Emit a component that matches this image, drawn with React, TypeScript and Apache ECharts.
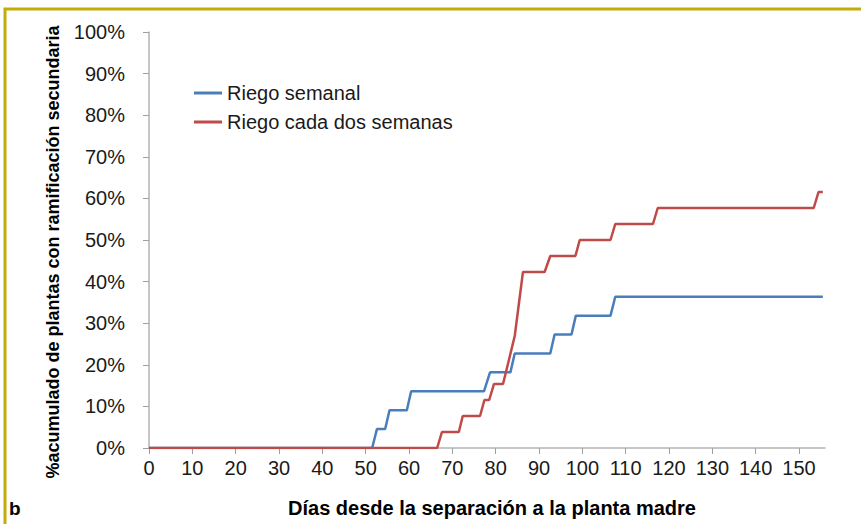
import React, { useEffect, useRef } from "react";
import * as echarts from "echarts";

const xTicks = [0, 10, 20, 30, 40, 50, 60, 70, 80, 90, 100, 110, 120, 130, 140, 150];

const seriesNames = ["Riego semanal", "Riego cada dos semanas"];

// Riego semanal (days, cumulative %)
const blueDays = [0, 51.5, 52.6, 54.5, 55.5, 59.5, 60.5, 77.3, 78.7, 83.4, 84.4, 92.6, 93.6, 97.5, 98.5, 106.5, 107.6, 155.5];
const blueValues = [0, 0, 4.55, 4.55, 9.09, 9.09, 13.64, 13.64, 18.18, 18.18, 22.73, 22.73, 27.27, 27.27, 31.82, 31.82, 36.36, 36.36];

// Riego cada dos semanas (days, cumulative %)
const redDays = [0, 66.5, 67.6, 71.5, 72.4, 76.4, 77.4, 78.5, 79.6, 81.7, 84.4, 86.3, 91.3, 92.6, 98.4, 99.4, 106.5, 107.6, 116.3, 117.4, 153.4, 154.5, 155.5];
const redValues = [0, 0, 3.85, 3.85, 7.69, 7.69, 11.54, 11.54, 15.38, 15.38, 26.92, 42.31, 42.31, 46.15, 46.15, 50.0, 50.0, 53.85, 53.85, 57.69, 57.69, 61.54, 61.54];

const FONT = "'Liberation Sans', Arial, sans-serif";

export default function App() {
  const ref = useRef<HTMLDivElement>(null);
  useEffect(() => {
    document.body.style.margin = "0";
    if (!ref.current) return;
    const chart = echarts.init(ref.current, null, { renderer: "svg" });
    chart.setOption({
      animation: false,
      backgroundColor: "#ffffff",
      textStyle: { fontFamily: FONT },
      grid: { left: 149, right: 36, top: 32, bottom: 76, containLabel: false },
      legend: {
        orient: "vertical",
        left: 194,
        top: 83,
        padding: 0,
        icon: "rect",
        itemWidth: 28,
        itemHeight: 3,
        itemGap: 9,
        data: seriesNames,
        textStyle: { fontSize: 20, color: "#1a1a1a", fontFamily: FONT },
      },
      xAxis: {
        type: "value",
        min: 0,
        max: 156,
        interval: 10,
        splitLine: { show: false },
        axisLine: { show: true, lineStyle: { color: "#b3b3b3", width: 1.5 } },
        axisTick: { show: true, length: 6, customValues: xTicks, lineStyle: { color: "#a0a0a0" } },
        axisLabel: {
          customValues: xTicks,
          margin: 10,
          fontSize: 20,
          color: "#1a1a1a",
          fontFamily: FONT,
        },
      },
      yAxis: {
        type: "value",
        min: 0,
        max: 100,
        interval: 10,
        splitLine: { show: false },
        axisLine: { show: true, lineStyle: { color: "#b3b3b3", width: 1.5 } },
        axisTick: { show: true, length: 6, lineStyle: { color: "#a0a0a0" } },
        axisLabel: {
          formatter: "{value}%",
          margin: 24,
          fontSize: 20,
          color: "#1a1a1a",
          fontFamily: FONT,
        },
      },
      graphic: [
        {
          type: "rect",
          silent: true,
          shape: { x: 5, y: 9, width: 900, height: 600 },
          style: { fill: "none", stroke: "#c4ac08", lineWidth: 3 },
        },
        {
          type: "text",
          x: 53,
          y: 252,
          rotation: Math.PI / 2,
          style: {
            text: "%acumulado de plantas con ramificación secundaria",
            fontFamily: FONT,
            fontWeight: "bold",
            fontSize: 18,
            fill: "#000",
            align: "center",
            verticalAlign: "middle",
          },
        },
        {
          type: "text",
          x: 492,
          y: 508,
          style: {
            text: "Días desde la separación a la planta madre",
            fontFamily: FONT,
            fontWeight: "bold",
            fontSize: 20,
            fill: "#000",
            align: "center",
            verticalAlign: "middle",
          },
        },
        {
          type: "text",
          x: 9,
          y: 508,
          style: {
            text: "b",
            fontFamily: FONT,
            fontWeight: "bold",
            fontSize: 19,
            fill: "#000",
            align: "left",
            verticalAlign: "middle",
          },
        },
      ],
      series: [
        {
          name: seriesNames[0],
          type: "line",
          showSymbol: false,
          data: blueDays.map((d, i) => [d, blueValues[i]]),
          lineStyle: { color: "#4a7ebb", width: 2.5 },
          itemStyle: { color: "#4a7ebb" },
        },
        {
          name: seriesNames[1],
          type: "line",
          showSymbol: false,
          data: redDays.map((d, i) => [d, redValues[i]]),
          lineStyle: { color: "#be4b48", width: 2.5 },
          itemStyle: { color: "#be4b48" },
        },
      ],
    });
    return () => chart.dispose();
  }, []);
  return <div ref={ref} style={{ width: 861, height: 524 }} />;
}
